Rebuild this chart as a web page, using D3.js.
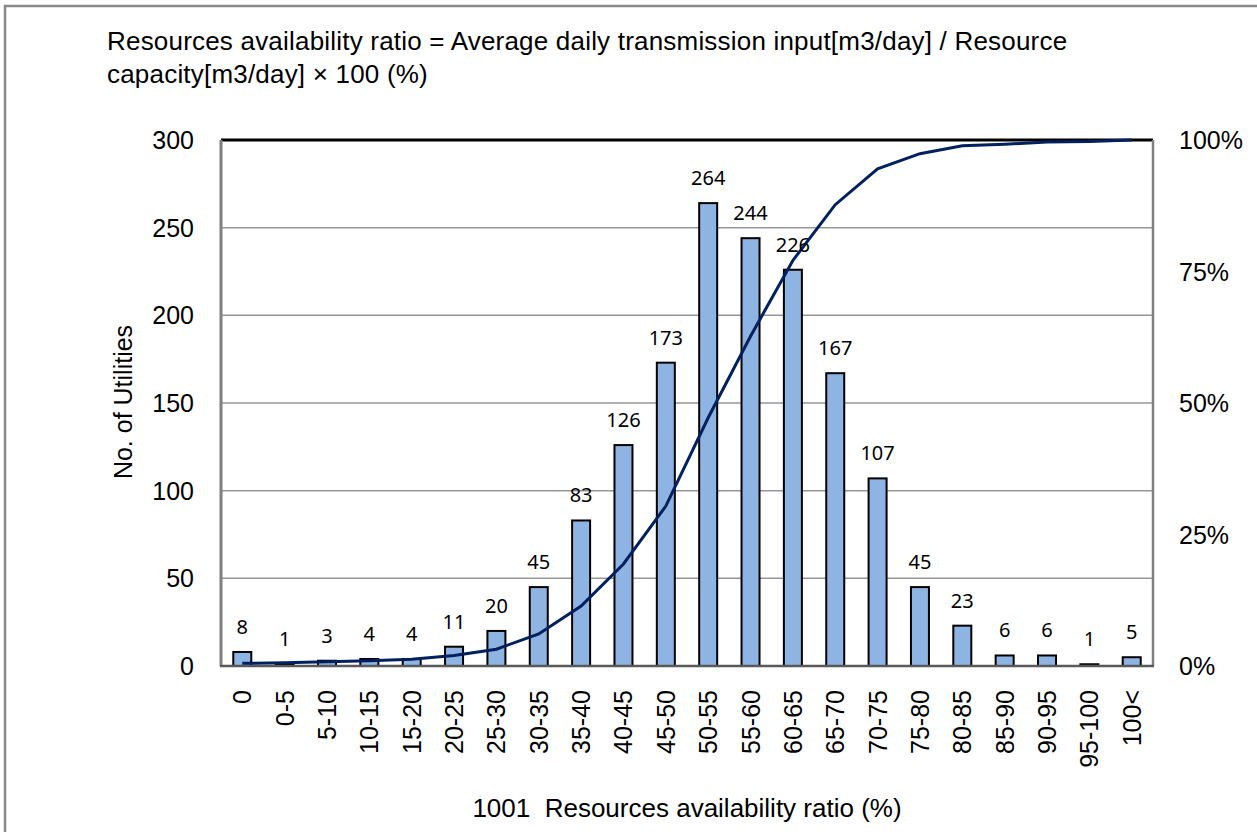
<!DOCTYPE html>
<html>
<head>
<meta charset="utf-8">
<script src="https://cdn.jsdelivr.net/npm/d3@7"></script>
<style>
  body { margin: 0; background: #fff; }
  text { font-family: "Liberation Sans", Arial, sans-serif; fill: #000; }
</style>
</head>
<body>
<script>
// categories and counts
var categories = ["0", "0-5", "5-10", "10-15", "15-20", "20-25", "25-30", "30-35", "35-40", "40-45",
    "45-50", "50-55", "55-60", "60-65", "65-70", "70-75", "75-80", "80-85", "85-90", "90-95", "95-100", "100<"];
var counts = [8, 1, 3, 4, 4, 11, 20, 45, 83, 126, 173, 264, 244, 226, 167, 107, 45, 23, 6, 6, 1, 5];
// cumulative share of utilities (%)
var cumulative = [0.5, 0.6, 0.8, 1.0, 1.3, 2.0, 3.2, 6.1, 11.4, 19.4, 30.4, 47.2, 62.7, 77.1, 87.7,
    94.5, 97.4, 98.9, 99.2, 99.6, 99.7, 100];
var leftTicks = [0, 50, 100, 150, 200, 250, 300];
var rightTicks = [0, 25, 50, 75, 100];

var w = 1257, h = 832;
var plot = { left: 221, top: 140, right: 1153, bottom: 666 };

var svg = d3.select("body").append("svg")
    .attr("width", w)
    .attr("height", h);

// outer frame (only top and left edges are in view)
svg.append("rect")
    .attr("x", 5).attr("y", 6)
    .attr("width", w + 20).attr("height", h + 20)
    .attr("fill", "none")
    .attr("stroke", "#888")
    .attr("stroke-width", 2.5);

// title
var title = svg.append("text")
    .attr("x", 107).attr("y", 50)
    .style("font-size", "26px")
    .style("letter-spacing", "0.2px");
title.append("tspan").text("Resources availability ratio = Average daily transmission input[m3/day] / Resource");
title.append("tspan").attr("x", 107).attr("dy", 33).text("capacity[m3/day] \u00d7 100 (%)");

var x = d3.scaleBand()
    .domain(categories)
    .range([plot.left, plot.right])
    .paddingInner(0.575)
    .paddingOuter(0.29);

var y = d3.scaleLinear().domain([0, 300]).range([plot.bottom, plot.top]);
var yPct = d3.scaleLinear().domain([0, 100]).range([plot.bottom, plot.top]);

// gridlines
svg.append("g")
    .selectAll("line")
    .data(leftTicks.slice(1, -1))
    .join("line")
    .attr("x1", plot.left).attr("x2", plot.right)
    .attr("y1", d => y(d)).attr("y2", d => y(d))
    .attr("stroke", "#969696")
    .attr("stroke-width", 1.5);

// plot border
svg.append("line")
    .attr("x1", plot.left).attr("x2", plot.right)
    .attr("y1", plot.top).attr("y2", plot.top)
    .attr("stroke", "#000").attr("stroke-width", 3);
svg.append("line")
    .attr("x1", plot.right).attr("x2", plot.right)
    .attr("y1", plot.top).attr("y2", plot.bottom)
    .attr("stroke", "#808080").attr("stroke-width", 2.5);
svg.append("line")
    .attr("x1", plot.left).attr("x2", plot.left)
    .attr("y1", plot.top).attr("y2", plot.bottom)
    .attr("stroke", "#808080").attr("stroke-width", 3);

// bars
svg.append("g")
    .selectAll("rect")
    .data(counts)
    .join("rect")
    .attr("x", (d, i) => x(categories[i]))
    .attr("y", d => y(d))
    .attr("width", x.bandwidth())
    .attr("height", d => y(0) - y(d))
    .attr("fill", "#8db4e2")
    .attr("stroke", "#000")
    .attr("stroke-width", 2);

// bottom axis line
svg.append("line")
    .attr("x1", plot.left - 1).attr("x2", plot.right + 1)
    .attr("y1", plot.bottom).attr("y2", plot.bottom)
    .attr("stroke", "#595959").attr("stroke-width", 2.5);

// cumulative line
var line = d3.line()
    .x((d, i) => x(categories[i]) + x.bandwidth() / 2)
    .y(d => yPct(d));
svg.append("path")
    .datum(cumulative)
    .attr("d", line)
    .attr("fill", "none")
    .attr("stroke", "#002060")
    .attr("stroke-width", 3);

// value labels
svg.append("g")
    .selectAll("text")
    .data(counts)
    .join("text")
    .attr("x", (d, i) => x(categories[i]) + x.bandwidth() / 2)
    .attr("y", d => y(d) - 18)
    .attr("text-anchor", "middle")
    .style("font-family", "'Liberation Sans Narrow', 'Noto Sans', sans-serif")
    .style("font-size", "20px")
    .text(d => d);

// left axis labels
svg.append("g")
    .selectAll("text")
    .data(leftTicks)
    .join("text")
    .attr("x", 194)
    .attr("y", d => y(d) + 9)
    .attr("text-anchor", "end")
    .style("font-size", "25px")
    .text(d => d);

// right axis labels
svg.append("g")
    .selectAll("text")
    .data(rightTicks)
    .join("text")
    .attr("x", 1179)
    .attr("y", d => yPct(d) + 9)
    .style("font-size", "25px")
    .text(d => d + "%");

// category labels (rotated)
svg.append("g")
    .selectAll("text")
    .data(categories)
    .join("text")
    .attr("transform", d => "translate(" + (x(d) + x.bandwidth() / 2 + 9) + ",690) rotate(-90)")
    .attr("text-anchor", "end")
    .style("font-size", "25px")
    .text(d => d);

// axis titles
svg.append("text")
    .attr("transform", "translate(132,402) rotate(-90)")
    .attr("text-anchor", "middle")
    .style("font-size", "25px")
    .text("No. of Utilities");

svg.append("text")
    .attr("x", 687).attr("y", 817)
    .attr("text-anchor", "middle")
    .style("font-size", "26px")
    .style("white-space", "pre")
    .text("1001  Resources availability ratio (%)");
</script>
</body>
</html>
